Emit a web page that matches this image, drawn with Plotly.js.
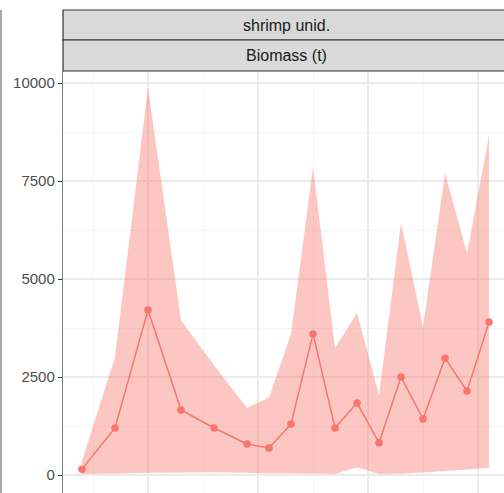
<!DOCTYPE html>
<html>
<head>
<meta charset="utf-8">
<script src="https://cdn.plot.ly/plotly-3.0.1.min.js"></script>
<style>
html,body{margin:0;padding:0;background:#fff;overflow:hidden;}
#chart{width:504px;height:493px;}
</style>
</head>
<body>
<div id="chart"></div>
<script>
// Survey years
const years = [1984, 1987, 1990, 1993, 1996, 1999, 2001, 2003, 2005, 2007, 2009, 2011, 2013, 2015, 2017, 2019, 2021];
// Biomass estimate (t)
const biomass = [150, 1200, 4210, 1660, 1200, 790, 690, 1300, 3600, 1200, 1840, 820, 2500, 1430, 2980, 2140, 3900];
// Confidence interval
const lower = [25, 30, 60, 70, 70, 60, 40, 40, 40, 25, 200, 25, 30, 60, 100, 140, 180];
const upper = [350, 3010, 9880, 3950, 2800, 1710, 1980, 3600, 7850, 3240, 4130, 2040, 6430, 3780, 7700, 5660, 8670];
const yTicks = [0, 2500, 5000, 7500, 10000];
const facetLabel = "shrimp unid.";
const stripLabel = "Biomass (t)";

const col = '#F8766D';
const traces = [
  {x: years, y: lower, type: 'scatter', mode: 'lines', line: {width: 0, color: col}, hoverinfo: 'skip', showlegend: false},
  {x: years, y: upper, type: 'scatter', mode: 'lines', line: {width: 0, color: col}, fill: 'tonexty', fillcolor: 'rgba(248,118,109,0.42)', showlegend: false},
  {x: years, y: biomass, type: 'scatter', mode: 'lines+markers', line: {width: 1.5, color: col}, marker: {size: 7.5, color: col}, showlegend: false}
];

// pixel helpers (plot area: x 63..504, y 71..493)
const H = 422, W = 441;
const py = p => (493 - p) / H;
const px = p => (p - 63) / W;

const layout = {
  width: 504, height: 493,
  margin: {l: 63, r: 0, t: 71, b: 0, pad: 0},
  paper_bgcolor: '#ffffff', plot_bgcolor: '#ffffff',
  font: {family: '"Liberation Sans", Arial, sans-serif'},
  xaxis: {
    range: [1982.273, 2022.36], showticklabels: false, ticks: '',
    tick0: 1990, dtick: 10, showgrid: true, gridcolor: '#EBEBEB', gridwidth: 1.2,
    minor: {dtick: 5, showgrid: true, gridcolor: '#F4F4F4', gridwidth: 1},
    zeroline: false, showline: false
  },
  yaxis: {
    range: [-459, 10306], tickvals: yTicks, tickformat: 'd',
    ticks: 'outside', ticklen: 4, tickwidth: 1, tickcolor: '#333333',
    tickfont: {size: 15, color: '#4D4D4D', family: '"Liberation Sans", Arial, sans-serif'},
    showgrid: true, gridcolor: '#EBEBEB', gridwidth: 1.2,
    minor: {dtick: 1250, showgrid: true, gridcolor: '#F4F4F4', gridwidth: 1},
    zeroline: false, showline: true, linecolor: '#7A7A7A', linewidth: 1.2
  },
  shapes: [
    {type: 'rect', xref: 'paper', yref: 'paper', x0: 0, x1: 1.02, y0: py(40), y1: py(10), fillcolor: '#D9D9D9', line: {color: '#333333', width: 1.2}, layer: 'above'},
    {type: 'rect', xref: 'paper', yref: 'paper', x0: 0, x1: 1.02, y0: py(71), y1: py(40), fillcolor: '#D9D9D9', line: {color: '#333333', width: 1.2}, layer: 'above'},
    {type: 'line', xref: 'paper', yref: 'paper', x0: px(1), x1: px(1), y0: 0, y1: py(10), line: {color: '#A8A8A8', width: 2}}
  ],
  annotations: [
    {xref: 'paper', yref: 'paper', x: px(286), y: py(25), text: facetLabel, showarrow: false, xanchor: 'center', yanchor: 'middle', font: {size: 16, color: '#1A1A1A', family: '"Liberation Sans", Arial, sans-serif'}},
    {xref: 'paper', yref: 'paper', x: px(286), y: py(55.5), text: stripLabel, showarrow: false, xanchor: 'center', yanchor: 'middle', font: {size: 16, color: '#1A1A1A', family: '"Liberation Sans", Arial, sans-serif'}}
  ]
};

Plotly.newPlot('chart', traces, layout, {displayModeBar: false, staticPlot: true});
</script>
</body>
</html>
